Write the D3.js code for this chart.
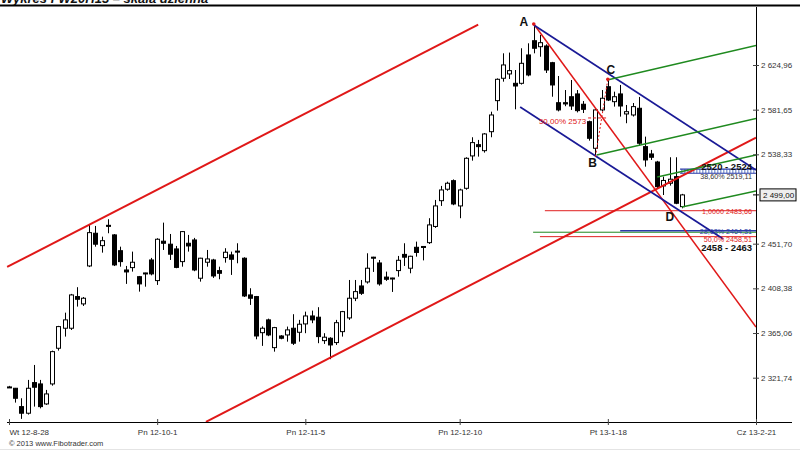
<!DOCTYPE html>
<html><head><meta charset="utf-8">
<script src="https://cdn.jsdelivr.net/npm/d3@7"></script>
<style>body{margin:0;background:#fff}svg{display:block;font-family:"Liberation Sans",Arial,sans-serif}</style>
</head><body><svg id="c" width="800" height="450"></svg>
<script>
// ---- data ----
const openV=[2312.8,2311.5,2293.7,2287.3,2317.0,2315.7,2296.3,2315.7,2350.3,2369.7,2369.7,2400.4,2393.3,2430.1,2461.8,2449.8,2469.5,2460.2,2444.9,2426.2,2428.5,2419.7,2423.3,2435.9,2415.9,2454.1,2451.2,2446.6,2434.3,2452.1,2455.3,2418.2,2433.7,2435.9,2425.6,2438.2,2440.8,2444.5,2437.6,2402.0,2400.4,2365.4,2377.8,2350.9,2362.2,2363.2,2369.7,2365.8,2373.9,2381.6,2380.4,2357.7,2360.0,2355.8,2366.4,2379.7,2398.8,2410.7,2414.6,2438.6,2433.0,2419.3,2418.4,2425.6,2441.3,2427.9,2448.2,2449.0,2452.7,2468.4,2493.4,2504.5,2512.8,2488.3,2505.4,2536.8,2547.7,2541.9,2560.3,2590.4,2612.1,2616.3,2607.2,2607.2,2634.7,2648.5,2642.7,2643.4,2627.2,2588.4,2588.4,2594.2,2596.9,2586.9,2570.0,2544.2,2581.4,2603.9,2589.4,2596.9,2577.5,2576.5,2583.0,2545.8,2538.7,2530.9,2507.7,2510.3,2516.7,2487.6];
const highV=[2313.8,2311.8,2301.8,2319.6,2334.1,2319.6,2309.9,2348.0,2372.0,2384.8,2403.0,2409.5,2400.0,2469.9,2468.9,2458.5,2475.4,2461.0,2448.8,2430.1,2444.0,2420.4,2423.5,2437.9,2457.0,2472.1,2461.1,2449.5,2464.0,2460.2,2457.3,2438.0,2445.6,2437.0,2429.4,2447.3,2444.0,2452.1,2438.5,2408.5,2401.0,2371.5,2379.0,2371.0,2363.0,2371.3,2383.3,2377.8,2385.8,2386.8,2390.1,2364.9,2361.0,2377.8,2386.5,2416.5,2416.5,2416.5,2442.4,2439.0,2435.9,2424.6,2418.7,2439.8,2452.1,2440.0,2453.7,2449.3,2476.4,2494.1,2507.7,2511.8,2514.0,2505.0,2535.5,2554.9,2552.3,2559.0,2579.7,2612.0,2636.3,2637.0,2620.1,2641.2,2646.0,2664.7,2654.1,2645.0,2628.0,2614.3,2600.7,2610.4,2600.7,2590.0,2571.0,2583.0,2600.7,2611.1,2599.1,2605.6,2586.2,2588.1,2594.0,2555.5,2542.6,2532.0,2516.7,2535.5,2535.5,2500.0];
const lowV=[2311.8,2297.6,2281.8,2286.0,2293.7,2292.0,2295.4,2314.0,2348.0,2361.6,2368.0,2390.7,2391.3,2429.0,2448.8,2443.0,2461.8,2430.0,2429.4,2412.7,2424.6,2405.2,2410.0,2421.0,2411.7,2445.6,2435.9,2427.9,2429.4,2444.0,2425.0,2414.9,2429.4,2418.5,2417.2,2433.3,2421.4,2432.7,2400.0,2392.3,2359.0,2352.6,2362.0,2347.0,2359.0,2356.7,2353.5,2356.7,2364.9,2374.6,2355.2,2354.5,2339.7,2353.5,2361.6,2377.8,2396.0,2402.0,2413.0,2424.3,2411.0,2415.6,2404.9,2419.7,2430.1,2423.0,2439.1,2435.5,2451.4,2467.0,2488.3,2503.0,2489.0,2476.4,2504.0,2532.2,2536.1,2540.0,2554.9,2580.7,2608.8,2611.4,2582.0,2606.0,2614.0,2636.3,2633.0,2617.2,2594.2,2580.0,2585.0,2581.4,2579.0,2578.4,2551.6,2536.1,2580.0,2590.0,2584.6,2574.9,2568.5,2575.0,2546.5,2526.4,2532.9,2505.4,2498.9,2508.0,2490.0,2486.0];
const closeV=[2312.8,2301.8,2287.3,2311.5,2312.5,2293.7,2306.0,2347.0,2371.3,2377.8,2402.0,2397.8,2398.8,2462.4,2451.2,2454.6,2468.5,2431.1,2434.3,2424.3,2433.7,2412.7,2423.0,2422.4,2456.0,2452.1,2441.5,2428.7,2463.4,2449.5,2426.2,2437.6,2436.9,2420.4,2423.0,2443.4,2436.6,2443.5,2401.0,2398.8,2362.2,2369.7,2363.2,2370.3,2360.0,2368.1,2355.2,2373.6,2381.6,2377.8,2361.6,2361.0,2353.5,2375.1,2385.8,2398.8,2405.2,2403.6,2427.9,2438.3,2412.7,2417.2,2418.2,2435.6,2438.6,2439.5,2443.2,2448.8,2469.9,2488.3,2503.8,2510.3,2490.2,2503.8,2534.5,2549.7,2545.8,2558.1,2576.5,2611.1,2625.0,2619.5,2604.6,2626.6,2615.3,2641.2,2646.6,2620.1,2605.6,2581.4,2587.2,2585.2,2580.7,2582.0,2553.9,2581.4,2592.7,2591.0,2594.2,2585.2,2579.7,2584.6,2549.1,2532.9,2535.5,2507.0,2513.0,2514.2,2490.9,2499.0];

const xTickIdx=[0,24,48,73,97,121];
const xTickLabels=["Wt 12-8-28","Pn 12-10-1","Pn 12-11-5","Pn 12-12-10","Pt 13-1-18","Cz 13-2-21"];
const yTickValues=[2321.74,2365.06,2408.38,2451.70,2538.33,2581.65,2624.96];
const lastPrice=2499.00;

// drawn objects (index, price)
const redChannelUpper=[[-0.3,2429.1],[76.0,2664.2]];
const redChannelLower=[[31.9,2278.9],[121,2554.6]];
const redFromA=[[85,2664.7],[121,2370.9]];
const blueUpper=[[85,2663.8],[121,2523.2]];
const blueLower=[[82.8,2584.2],[115.7,2456.3]];
const greenLines=[
  [[96.9,2610.4],[121,2643.9]],
  [[95.2,2537.7],[121,2573.1]],
  [[105.0,2516.4],[121,2537.7]],
  [[109.0,2487.3],[121,2502.8]]
];
const redLevels=[[86.8,2483.66],[86.0,2458.51]];
const greenLevels=[[84.9,2462.8]];
const blueLevels=[[99,2464.31]];
const zones=[[108.7,2520,2524]];
const retrace=[[95,2536.1],[97,2611.1]];
const retraceMid=[[93.8,2573.6],[96.9,2573.6]];
const pointLabels=["A","B","C","D"];
const pointPos=[[85,2664.7],[95,2536.1],[97,2611.1],[108.5,2483.0]];
const levelTexts=["2520 - 2524","38,60% 2519,11","1,0000 2483,66","28,63% 2464,31","50,0% 2458,51","2458 - 2463"];
const levelTextPrice=[2523.0,2514.5,2480.5,2461.5,2453.8,2444.5];

// ---- drawing ----
const svg=d3.select("#c");
const W=800,H=450;
const x=d3.scaleLinear().domain([0,121]).range([9,756]);
const y=d3.scaleLinear().domain([2321.74,2624.96]).range([377.7,65]);
const locale=d3.formatLocale({decimal:",",thousands:" ",grouping:[3],currency:["",""]});
const fmt=locale.format(",.2f");

svg.append("rect").attr("width",W).attr("height",H).attr("fill","#fff");
const defs=svg.append("defs");
defs.append("clipPath").attr("id","pc").append("rect").attr("x",0).attr("y",7).attr("width",756).attr("height",415);
const pat=defs.append("pattern").attr("id","hatch").attr("patternUnits","userSpaceOnUse").attr("width",3).attr("height",3);
pat.append("rect").attr("width",3).attr("height",3).attr("fill","#fff");
pat.append("rect").attr("width",1.5).attr("height",3).attr("fill","#8fa4d8");

// title (cropped at the top edge, as in the source)
svg.append("text").attr("x",1).attr("y",2.5).attr("font-size",13).attr("font-style","italic").attr("font-weight","bold").attr("fill","#111").text("Wykres FW20H13 – skala dzienna");
svg.append("line").attr("x1",0).attr("x2",800).attr("y1",5.5).attr("y2",5.5).attr("stroke","#000").attr("stroke-width",2);

const plot=svg.append("g").attr("clip-path","url(#pc)");
const line=d3.line().x(d=>x(d[0])).y(d=>y(d[1]));

// horizontal levels
plot.selectAll(".rl").data(redLevels).join("line").attr("x1",d=>x(d[0])).attr("x2",x(121)).attr("y1",d=>y(d[1])).attr("y2",d=>y(d[1])).attr("stroke","#e02020").attr("stroke-width",1);
plot.selectAll(".gl").data(greenLevels).join("line").attr("x1",d=>x(d[0])).attr("x2",x(121)).attr("y1",d=>y(d[1])).attr("y2",d=>y(d[1])).attr("stroke","#1f8a1f").attr("stroke-width",1);
plot.selectAll(".bl").data(blueLevels).join("line").attr("x1",d=>x(d[0])).attr("x2",x(121)).attr("y1",d=>y(d[1])).attr("y2",d=>y(d[1])).attr("stroke","#2a3aa8").attr("stroke-width",1.5);
zones.forEach(z=>{
  plot.append("rect").attr("x",x(z[0])).attr("width",x(121)-x(z[0])).attr("y",y(z[2])).attr("height",y(z[1])-y(z[2])).attr("fill","url(#hatch)");
  [z[1],z[2]].forEach(v=>plot.append("line").attr("x1",x(z[0])).attr("x2",x(121)).attr("y1",y(v)).attr("y2",y(v)).attr("stroke","#2a3aa8").attr("stroke-width",1.2));
});

// candles
const idx=d3.range(openV.length);
const cg=plot.append("g");
cg.selectAll(".w").data(idx).join("line").attr("x1",i=>Math.round(x(i))+0.5).attr("x2",i=>Math.round(x(i))+0.5)
  .attr("y1",i=>y(highV[i])).attr("y2",i=>y(lowV[i])).attr("stroke","#000").attr("stroke-width",1);
cg.selectAll(".b").data(idx).join("rect")
  .attr("x",i=>Math.round(x(i))-1.5).attr("width",4)
  .attr("y",i=>y(Math.max(openV[i],closeV[i])))
  .attr("height",i=>Math.max(1,Math.abs(y(openV[i])-y(closeV[i]))))
  .attr("fill",i=>closeV[i]>=openV[i]?"#fff":"#000").attr("stroke","#000").attr("stroke-width",1);

// trend lines
const drawL=(pts,c,w,da)=>plot.append("path").attr("d",line(pts)).attr("fill","none").attr("stroke",c).attr("stroke-width",w).attr("stroke-dasharray",da||null);
drawL(redChannelUpper,"#e01818",2);
drawL(redChannelLower,"#e01818",2);
drawL(redFromA,"#e01818",1.5);
drawL(blueUpper,"#1a1a96",1.7);
drawL(blueLower,"#1a1a96",1.7);
greenLines.forEach(g=>drawL(g,"#1f8a1f",1.5));
drawL(retrace,"#e01818",1,"2,2");
drawL(retraceMid,"#e01818",1,"3,2");
plot.append("text").attr("x",x(retraceMid[0][0])-2).attr("y",y(retraceMid[0][1])+6).attr("text-anchor","end").attr("font-size",8).attr("fill","#e01818").text("50,00% 2573");
[pointPos[0],pointPos[2]].forEach(p=>plot.append("circle").attr("cx",x(p[0])).attr("cy",y(p[1])).attr("r",1.8).attr("fill","#e01818"));

// point labels
const lblOff=[[-10,2],[-3,10],[3,-5],[-9,10]];
pointLabels.forEach((t,k)=>svg.append("text").attr("x",x(pointPos[k][0])+lblOff[k][0]).attr("y",y(pointPos[k][1])+lblOff[k][1]).attr("text-anchor","middle").attr("font-size",12).attr("font-weight","bold").attr("fill","#111").text(t));

// level texts
const ltCol=["#111","#333","#e02020","#2a3aa8","#e02020","#111"];
levelTexts.forEach((t,k)=>svg.append("text").attr("x",752).attr("y",y(levelTextPrice[k])).attr("text-anchor","end")
  .attr("font-size",(k===0||k===5)?9.5:7.2).attr("font-weight",(k===0||k===5)?"bold":"normal").attr("fill",ltCol[k]).text(t));

// right axis
const ya=svg.append("g").attr("transform","translate(756,0)");
ya.append("line").attr("x1",0.5).attr("x2",0.5).attr("y1",7).attr("y2",422).attr("stroke","#000");
ya.call(g=>{const a=d3.axisRight(y).tickValues(yTickValues).tickFormat(fmt).tickSize(3).tickPadding(2); g.call(a); g.select(".domain").remove();
  g.selectAll(".tick line").attr("x1",-3).attr("stroke","#444");
  g.selectAll(".tick text").attr("font-size",8).attr("fill","#333").attr("font-family","Liberation Sans, Arial, sans-serif");});
const lp=ya.append("g").attr("transform",`translate(4,${y(lastPrice)})`);
lp.append("rect").attr("x",0).attr("y",-6).attr("width",36).attr("height",12).attr("fill","#eee").attr("stroke","#000");
lp.append("text").attr("x",3).attr("y",3).attr("font-size",8).attr("fill","#111").text(fmt(lastPrice));
ya.append("line").attr("x1",-3).attr("x2",3).attr("y1",y(lastPrice)).attr("y2",y(lastPrice)).attr("stroke","#000");

// bottom axis
const xa=svg.append("g").attr("transform","translate(0,422)");
xa.append("line").attr("x1",7).attr("x2",792).attr("y1",0.5).attr("y2",0.5).attr("stroke","#000");
xa.call(g=>{const a=d3.axisBottom(x).tickValues(xTickIdx).tickFormat((d,i)=>xTickLabels[i]).tickSize(3).tickPadding(4); g.call(a); g.select(".domain").remove();
  g.selectAll(".tick line").attr("y1",-3).attr("stroke","#444");
  g.selectAll(".tick text").attr("font-size",8).attr("fill","#333").attr("font-family","Liberation Sans, Arial, sans-serif");
  g.selectAll(".tick text").filter((d,i)=>i===0).attr("text-anchor","start");});

svg.append("text").attr("x",9).attr("y",446).attr("font-size",7.5).attr("fill","#333").text("© 2013 www.Fibotrader.com");
svg.append("line").attr("x1",0).attr("x2",800).attr("y1",449.5).attr("y2",449.5).attr("stroke","#e4e4e4");
</script></body></html>
